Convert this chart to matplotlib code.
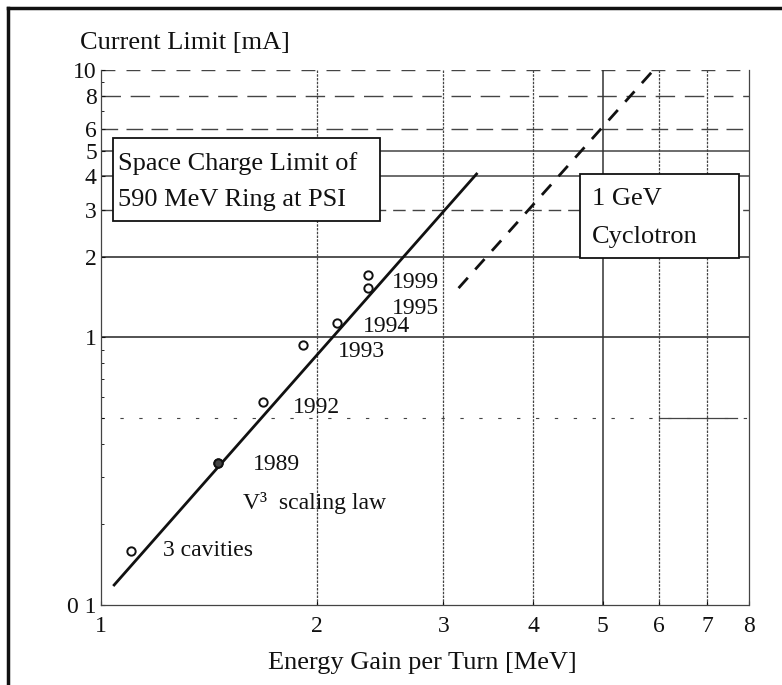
"""Current limit vs energy gain per turn (PSI 590 MeV ring), log-log."""

import matplotlib
matplotlib.use("Agg")
import matplotlib.pyplot as plt
from matplotlib.lines import Line2D
from matplotlib.patches import Rectangle

plt.rcParams["font.family"] = ["Liberation Serif", "DejaVu Serif"]

# measured points (energy gain per turn [MeV], current limit [mA])
point_labels = ["3 cavities", "1989", "1992", "1993", "1994", "1995", "1999"]
energy = [1.10, 1.457, 1.683, 1.914, 2.135, 2.358, 2.358]
current = [0.159, 0.340, 0.574, 0.938, 1.133, 1.53, 1.713]

# V^3 scaling law through the PSI points
scaling_v = [1.043, 3.337]
scaling_i = [0.1188, 4.085]

# projected 1 GeV cyclotron line
cyclo_v = [3.15, 5.89]
cyclo_i = [1.53, 10.0]

x_ticks = [1, 2, 3, 4, 5, 6, 7, 8]
x_tick_labels = ["1", "2", "3", "4", "5", "6", "7", "8"]
y_ticks = [0.1, 1, 2, 3, 4, 5, 6, 8, 10]
y_tick_labels = ["0 1", "1", "2", "3", "4", "5", "6", "8", "10"]

fig = plt.figure(figsize=(7.82, 6.85), dpi=100)
ax = fig.add_axes([0.1292, 0.1168, 0.8286, 0.781])
ax.set_xscale("log")
ax.set_yscale("log")
ax.set_xlim(1, 8)
ax.set_ylim(0.1, 10)

# grid, drawn by hand to mimic the scanned original
grid_kw = dict(color="#444", zorder=1)
ax.axhline(1, lw=1.3, ls="-", **grid_kw)
ax.axhline(2, lw=1.3, ls="-", **grid_kw)
ax.axhline(3, lw=1.0, ls=(0, (9, 5)), **grid_kw)
ax.axhline(4, lw=1.1, ls="-", **grid_kw)
ax.axhline(5, lw=1.1, ls="-", **grid_kw)
ax.axhline(6, lw=1.0, ls=(0, (12, 6)), **grid_kw)
ax.axhline(8, lw=1.0, ls=(0, (14, 7)), **grid_kw)
ax.axhline(10, lw=1.0, ls=(0, (10, 8)), **grid_kw)
ax.axhline(0.5, lw=0.8, ls=(0, (3, 14)), **grid_kw)
ax.plot([6, 7.7], [0.5, 0.5], lw=0.9, **grid_kw)
for xv in [2, 3, 4, 6, 7]:
    ax.axvline(xv, lw=0.9, ls=(0, (2, 1)), **grid_kw)
ax.axvline(5, lw=1.1, ls="-", color="#333", zorder=1)

for side in ["left", "bottom", "right"]:
    ax.spines[side].set_linestyle((0, (2, 1)))
    ax.spines[side].set_linewidth(0.9)
    ax.spines[side].set_color("#444")
ax.spines["top"].set_visible(False)

ax.set_xticks(x_ticks)
ax.set_xticklabels(x_tick_labels)
ax.set_yticks(y_ticks)
ax.set_yticklabels(y_tick_labels)
ax.xaxis.set_minor_locator(plt.NullLocator())
ax.yaxis.set_minor_locator(plt.FixedLocator([0.2, 0.3, 0.4, 0.5, 0.6, 0.7, 0.8, 0.9, 7, 9]))
ax.yaxis.set_minor_formatter(plt.NullFormatter())
ax.tick_params(axis="both", which="major", direction="in", length=3, width=0.8,
               labelsize=17, colors="#111")
ax.tick_params(axis="x", pad=8)
ax.tick_params(axis="y", pad=3)
ax.tick_params(axis="y", which="minor", direction="in", length=2, width=0.6)

# boxes with white fill hiding the grid
ax.add_patch(Rectangle((0.0185, 0.7178), 0.4121, 0.1551, transform=ax.transAxes,
                       facecolor="white", edgecolor="#111", lw=1.3, zorder=3))
ax.add_patch(Rectangle((0.7392, 0.6486), 0.2454, 0.157, transform=ax.transAxes,
                       facecolor="white", edgecolor="#111", lw=1.3, zorder=3))
box_text = dict(transform=ax.transAxes, fontsize=19, ha="left", va="center",
                color="#111", zorder=4)
ax.text(0.026, 0.826, "Space Charge Limit of", **box_text)
ax.text(0.026, 0.757, "590 MeV Ring at PSI", **box_text)
ax.text(0.758, 0.759, "1 GeV", **box_text)
ax.text(0.758, 0.688, "Cyclotron", **box_text)

# lines
ax.plot(scaling_v, scaling_i, color="#111", lw=2.0, zorder=5)
ax.plot(cyclo_v, cyclo_i, color="#111", lw=2.0, ls=(0, (5, 4)), zorder=5)

# measured points
ax.plot(energy, current, ls="none", marker="o", ms=6, mfc="white",
        mec="#111", mew=1.4, zorder=6)
ax.plot(energy[1], current[1], ls="none", marker="o", ms=6, mfc="#444",
        mec="#111", mew=1.4, zorder=7)

ann = dict(transform=ax.transAxes, fontsize=17, ha="left", va="center",
           color="#111", zorder=6)
label_pos = [(0.096, 0.101), (0.235, 0.262), (0.296, 0.370), (0.366, 0.473),
             (0.404, 0.521), (0.449, 0.555), (0.449, 0.602)]
for text, (tx, ty) in zip(point_labels, label_pos):
    ax.text(tx, ty, text, **ann)
ax.text(0.219, 0.191, "V³  scaling law", **ann)

fig.text(0.102, 0.937, "Current Limit [mA]", fontsize=19, ha="left",
         va="center", color="#111")
fig.text(0.540, 0.032, "Energy Gain per Turn [MeV]", fontsize=19, ha="center",
         va="center", color="#111")

# scanned frame remnants (top and left edge)
fig.add_artist(Line2D([0.0102, 1.0], [0.988, 0.988], transform=fig.transFigure,
                      color="#111", lw=2.5))
fig.add_artist(Line2D([0.0102, 0.0102], [0.0, 0.988], transform=fig.transFigure,
                      color="#111", lw=2.5))

fig.savefig("out.png", dpi=100)
